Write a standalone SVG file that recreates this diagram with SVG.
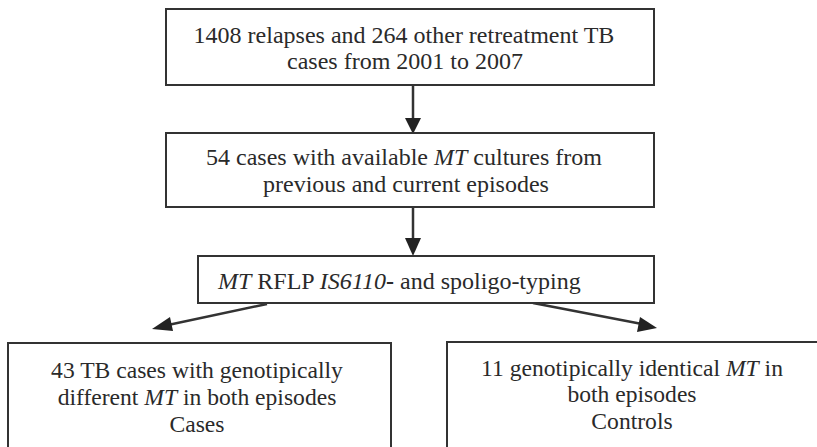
<svg xmlns="http://www.w3.org/2000/svg" width="817" height="447" viewBox="0 0 817 447">
<style>
.box{fill:#fff;stroke:#333;stroke-width:2}
.t{font-family:'Liberation Serif','DejaVu Serif',serif;font-size:24px;fill:#2a2a2a}
.m{text-anchor:middle}
.b{font-size:23.6px}
.c{stroke:#333;stroke-width:2.5;fill:none}
.h{fill:#222}
</style>
<rect width="817" height="447" fill="#fff"/>
<g id="connectors">
<line class="c" x1="413" y1="86" x2="413" y2="119"/>
<polygon class="h" points="405,118 421,118 413,134"/>
<line class="c" x1="413" y1="208" x2="413" y2="239"/>
<polygon class="h" points="405,238 421,238 413,256"/>
<line class="c" x1="267" y1="304" x2="168" y2="325"/>
<polygon class="h" points="152,329 170,317 173,331"/>
<line class="c" x1="533" y1="303" x2="642" y2="324"/>
<polygon class="h" points="657,328 637,332 640,317"/>
</g>
<g id="n1">
<rect class="box" x="166" y="9" width="488" height="76"/>
<text class="t m" x="404" y="43" font-family="Liberation Serif, serif">1408 relapses and 264 other retreatment TB</text>
<text class="t m" x="405" y="69" font-family="Liberation Serif, serif">cases from 2001 to 2007</text>
</g>
<g id="n2">
<rect class="box" x="166" y="133" width="488" height="74"/>
<text class="t m" x="404" y="165">54 cases with available <tspan font-style="italic">MT</tspan> cultures from</text>
<text class="t m" x="406" y="192">previous and current episodes</text>
</g>
<g id="n3">
<rect class="box" x="198" y="256" width="456" height="47"/>
<text class="t" x="218" y="289"><tspan font-style="italic">MT</tspan> RFLP <tspan font-style="italic">IS6110</tspan><tspan font-weight="bold">-</tspan> and spoligo-typing</text>
</g>
<g id="n4">
<rect class="box" x="8" y="343" width="383" height="120"/>
<text class="t b m" x="197" y="378">43 TB cases with genotipically</text>
<text class="t b m" x="197" y="405">different <tspan font-style="italic">MT</tspan> in both episodes</text>
<text class="t b m" x="197" y="432">Cases</text>
</g>
<g id="n5">
<rect class="box" x="447" y="342" width="380" height="120"/>
<text class="t b m" x="632" y="376">11 genotipically identical <tspan font-style="italic">MT</tspan> in</text>
<text class="t b m" x="632" y="402">both episodes</text>
<text class="t b m" x="632" y="429">Controls</text>
</g>
</svg>
